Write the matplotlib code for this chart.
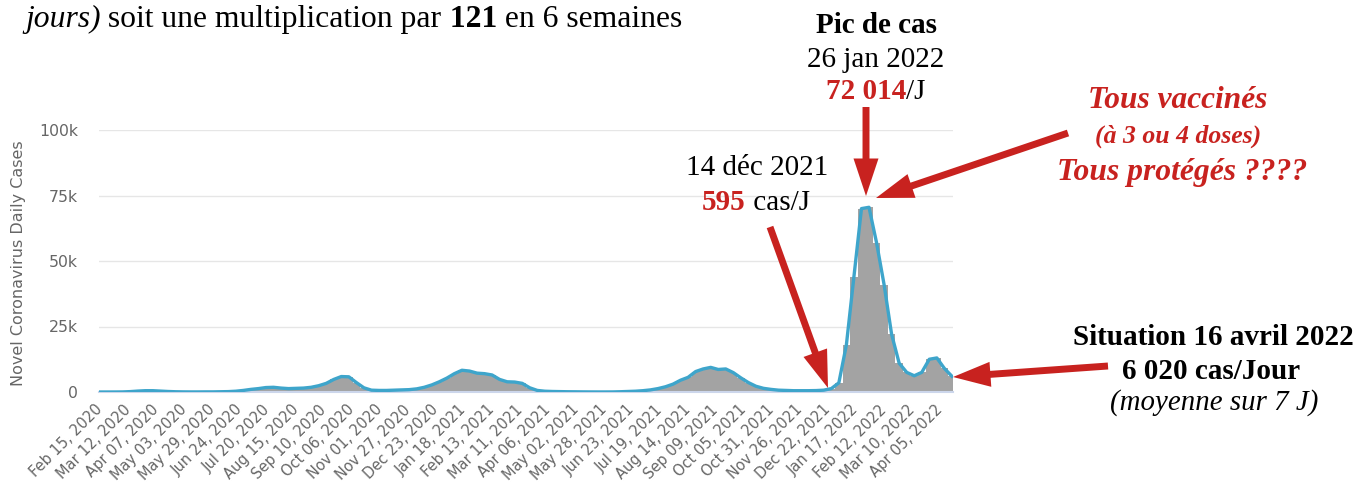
import matplotlib
matplotlib.use("Agg")
import matplotlib.pyplot as plt
from matplotlib.patches import FancyArrowPatch, ArrowStyle
import pandas as pd

# -------- données (moyenne hebdo des cas quotidiens, en milliers) --------
START = "2020-02-15"
END = "2022-04-16"
cases_k = [
    0, 0, 0.01, 0.03, 0.15, 0.35, 0.5, 0.5, 0.35, 0.2,
    0.1, 0.05, 0.03, 0.03, 0.05, 0.05, 0.1, 0.15, 0.3, 0.6,
    1.0, 1.3, 1.7, 1.8, 1.5, 1.3, 1.4, 1.5, 1.8, 2.4,
    3.3, 4.8, 5.9, 5.8, 3.6, 1.6, 0.7, 0.6, 0.6, 0.7,
    0.8, 0.9, 1.2, 1.8, 2.7, 3.9, 5.3, 7.0, 8.3, 8.0,
    7.2, 7.0, 6.5, 4.8, 3.9, 3.8, 3.3, 1.6, 0.6, 0.3,
    0.2, 0.15, 0.1, 0.08, 0.05, 0.03, 0.02, 0.02, 0.03, 0.1,
    0.2, 0.3, 0.5, 0.8, 1.3, 2.0, 3.0, 4.5, 5.6, 7.8,
    8.8, 9.4, 8.6, 8.8, 7.4, 5.4, 3.6, 2.2, 1.4, 1.0,
    0.7, 0.6, 0.5, 0.5, 0.5, 0.55, 0.7, 1.3, 3.5, 18,
    44, 70, 70.5, 57, 41, 22, 11, 7.5, 6.2, 7.5,
    12.5, 13, 9, 6.0,
]
y_ticks = [0, 25, 50, 75, 100]
y_tick_labels = ["0", "25k", "50k", "75k", "100k"]
tick_dates = pd.date_range(START, END, freq="26D")

W, H = 1361, 488
RED = "#c8221f"
SERIF = "Liberation Serif"
GREY_BAR = "#a3a3a3"
LINE = "#3ea5cb"

fig = plt.figure(figsize=(W / 100, H / 100), dpi=100)
ax = fig.add_axes([99 / W, 1 - 392 / H, (953 - 99) / W, (392 - 130) / H])

dates = pd.date_range(START, periods=len(cases_k), freq="7D")
ax.bar(dates, cases_k, width=7, color=GREY_BAR, linewidth=0, zorder=2)
ax.plot(dates, cases_k, color=LINE, linewidth=2.4, zorder=3)

ax.set_xlim(pd.Timestamp(START) - pd.Timedelta(days=1), pd.Timestamp(END) + pd.Timedelta(days=1))
ax.set_ylim(0, 100)
ax.set_yticks(y_ticks)
ax.set_yticklabels(y_tick_labels, fontsize=11.3, color="#666666")
ax.set_xticks(tick_dates)
ax.set_xticklabels([d.strftime("%b %d, %Y") for d in tick_dates], rotation=45,
                   ha="right", va="center", rotation_mode="anchor",
                   fontsize=10.5, color="#666666")
ax.tick_params(axis="both", length=0)
ax.tick_params(axis="x", pad=11)
ax.tick_params(axis="y", pad=15)
ax.grid(axis="y", color="#e6e6e6", linewidth=1, zorder=0)
ax.set_axisbelow(True)
for side in ["top", "right", "left"]:
    ax.spines[side].set_visible(False)
ax.spines["bottom"].set_color("#ccd6eb")
ax.spines["bottom"].set_linewidth(1.5)
ax.set_ylabel("Novel Coronavirus Daily Cases", fontsize=11.5, color="#666666")
ax.yaxis.set_label_coords((26 - 99) / 854, 0.49)


# -------- annotations --------
def rich_text(cx, base_y, parts, size, align="center"):
    r = fig.canvas.get_renderer()
    items = []
    for s, color, weight, style in parts:
        t = fig.text(0, 1 - base_y / H, s, fontsize=size, color=color, fontweight=weight,
                     fontstyle=style, family=SERIF, va="baseline", ha="left")
        items.append(t)
    widths = [t.get_window_extent(r).width for t in items]
    x = cx - sum(widths) / 2 if align == "center" else cx
    for t, w in zip(items, widths):
        t.set_x(x / W)
        x += w


def arrow(x0, y0, x1, y1):
    style = ArrowStyle("simple", head_length=27, head_width=18, tail_width=5)
    a = FancyArrowPatch((x0 / W, 1 - y0 / H), (x1 / W, 1 - y1 / H), transform=fig.transFigure,
                        arrowstyle=style, mutation_scale=1, color=RED, linewidth=0,
                        shrinkA=0, shrinkB=0)
    fig.add_artist(a)


K = "black"
rich_text(25, 27, [("jours)", K, "normal", "italic"),
                   (" soit une multiplication par", K, "normal", "normal"),
                   (" 121", K, "bold", "normal"),
                   (" en 6 semaines", K, "normal", "normal")], 22.8, align="left")

rich_text(876, 33, [("Pic de cas", K, "bold", "normal")], 21)
rich_text(876, 67, [("26 jan 2022", K, "normal", "normal")], 21)
rich_text(876, 99, [("72 014", RED, "bold", "normal"), ("/J", K, "normal", "normal")], 21)

rich_text(757, 175, [("14 déc 2021", K, "normal", "normal")], 21)
rich_text(756, 210, [("595", RED, "bold", "normal"), (" cas/J", K, "normal", "normal")], 21)

rich_text(1178, 108, [("Tous vaccinés", RED, "bold", "italic")], 22.6)
rich_text(1178, 143, [("(à 3 ou 4 doses)", RED, "bold", "italic")], 18.5)
rich_text(1182, 180, [("Tous protégés ????", RED, "bold", "italic")], 22.8)

rich_text(1213, 345, [("Situation 16 avril 2022", K, "bold", "normal")], 21)
rich_text(1211, 379, [("6 020 cas/Jour", K, "bold", "normal")], 21)
rich_text(1214, 410, [("(moyenne sur 7 J)", K, "normal", "italic")], 20.8)

arrow(866, 107, 866, 196)
arrow(770, 227, 828, 388)
arrow(1068, 133, 876, 198)
arrow(1108, 366, 953, 377)

fig.savefig("out.png", dpi=100)
